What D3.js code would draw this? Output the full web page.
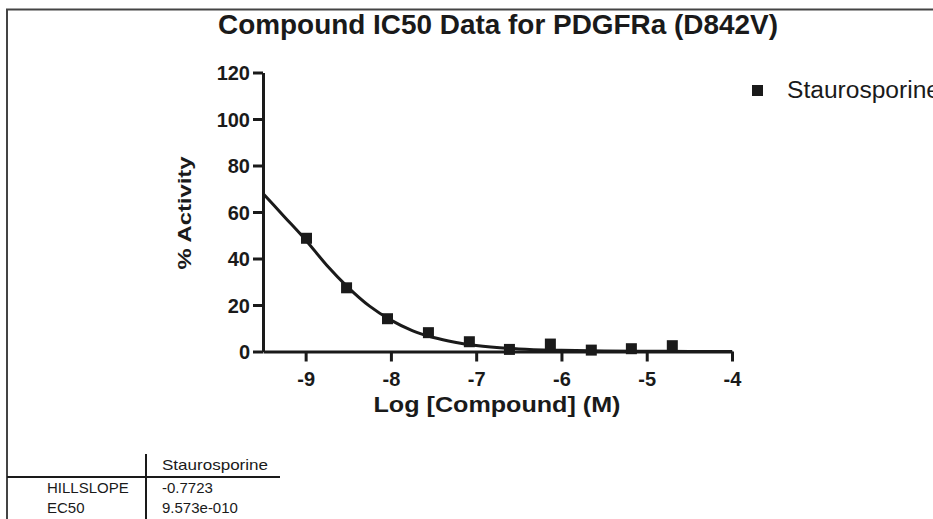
<!DOCTYPE html>
<html>
<head>
<meta charset="utf-8">
<script src="https://cdn.jsdelivr.net/npm/d3@7"></script>
<style>
  html, body { margin: 0; padding: 0; background: #fff; }
  svg { display: block; }
  text { font-family: "Liberation Sans", Arial, Helvetica, sans-serif; fill: #1a1a1a; }
</style>
</head>
<body>
<svg id="chart" width="933" height="519"></svg>
<script>
// ---- data ----
const seriesName = "Staurosporine";
const logConc = [-8.99, -8.52, -8.04, -7.56, -7.08, -6.61, -6.13, -5.65, -5.18, -4.70];
const activity = [48.7, 27.4, 14.1, 8.1, 4.2, 0.9, 3.2, 0.6, 1.2, 2.5];
// fitted curve as drawn in the reference
const curveX = [-9.5, -9.25, -9, -8.75, -8.5, -8.25, -8, -7.75, -7.5, -7.25, -7, -6.5, -6, -5.5, -5, -4.5, -4];
const curveY = [68, 58, 48, 37, 27.5, 19.5, 13.5, 9, 6, 4, 2.6, 1.1, 0.5, 0.2, 0.1, 0.05, 0];
const xTicks = [-9, -8, -7, -6, -5, -4];
const xTickLabels = ["-9", "-8", "-7", "-6", "-5", "-4"];
const yTicks = [0, 20, 40, 60, 80, 100, 120];
const tableRows = ["HILLSLOPE", "EC50"];
const tableValues = ["-0.7723", "9.573e-010"];

const svg = d3.select("#chart");
const ink = "#1a1a1a";

const x = d3.scaleLinear().domain([-9.5, -4]).range([263, 732]);
const y = d3.scaleLinear().domain([0, 120]).range([351.5, 72.5]);

// frame
svg.append("path")
  .attr("d", "M7,519V9.5H933")
  .attr("fill", "none").attr("stroke", "#444").attr("stroke-width", 2);

// title
svg.append("text")
  .attr("x", 498).attr("y", 34)
  .attr("text-anchor", "middle")
  .attr("font-size", 28).attr("font-weight", "bold")
  .attr("textLength", 560).attr("lengthAdjust", "spacingAndGlyphs")
  .text("Compound IC50 Data for PDGFRa (D842V)");

// axes
const yAxis = d3.axisLeft(y).tickValues(yTicks).tickSize(10).tickSizeOuter(0).tickPadding(3)
  .tickFormat(d => String(d));
const xAxis = d3.axisBottom(x).tickValues(xTicks).tickSize(10).tickSizeOuter(0).tickPadding(6)
  .tickFormat((d, i) => xTickLabels[i]);

const gy = svg.append("g").attr("transform", `translate(${x.range()[0]},0)`).call(yAxis);
const gx = svg.append("g").attr("transform", `translate(0,${y(0)})`).call(xAxis);

[gx, gy].forEach(g => {
  g.select(".domain").attr("stroke", ink).attr("stroke-width", 3);
  g.selectAll(".tick line").attr("stroke", ink).attr("stroke-width", 3);
  g.selectAll(".tick text")
    .attr("font-family", "'Liberation Sans', Arial, sans-serif")
    .attr("font-size", 20).attr("font-weight", "bold").attr("fill", ink);
});
gy.selectAll(".tick text").attr("dy", "0.36em");
gx.selectAll(".tick text").attr("dy", "0.9em");

// axis titles
svg.append("text")
  .attr("x", 497).attr("y", 412)
  .attr("text-anchor", "middle")
  .attr("font-size", 22).attr("font-weight", "bold")
  .attr("textLength", 247).attr("lengthAdjust", "spacingAndGlyphs")
  .text("Log [Compound] (M)");

svg.append("text")
  .attr("transform", "translate(191,213) rotate(-90)")
  .attr("text-anchor", "middle")
  .attr("font-size", 19).attr("font-weight", "bold")
  .attr("textLength", 113).attr("lengthAdjust", "spacingAndGlyphs")
  .text("% Activity");

// fitted curve
const line = d3.line().x((d, i) => x(curveX[i])).y(d => y(d)).curve(d3.curveMonotoneX);
svg.append("path")
  .attr("d", line(curveY))
  .attr("fill", "none").attr("stroke", ink).attr("stroke-width", 3);

// data points
const sq = 11;
svg.append("g").selectAll("rect")
  .data(activity)
  .join("rect")
  .attr("x", (d, i) => x(logConc[i]) - sq / 2)
  .attr("y", d => y(d) - sq / 2)
  .attr("width", sq).attr("height", sq)
  .attr("fill", ink);

// legend
svg.append("rect")
  .attr("x", 752).attr("y", 85).attr("width", 11).attr("height", 11).attr("fill", ink);
svg.append("text")
  .attr("x", 787).attr("y", 98)
  .attr("font-size", 23)
  .attr("textLength", 153).attr("lengthAdjust", "spacingAndGlyphs")
  .text(seriesName);

// parameter table
svg.append("line").attr("x1", 146).attr("x2", 146).attr("y1", 454).attr("y2", 519)
  .attr("stroke", ink).attr("stroke-width", 2);
svg.append("line").attr("x1", 7).attr("x2", 280).attr("y1", 477).attr("y2", 477)
  .attr("stroke", ink).attr("stroke-width", 2);
svg.append("text")
  .attr("x", 162).attr("y", 470)
  .attr("font-size", 15)
  .attr("textLength", 106).attr("lengthAdjust", "spacingAndGlyphs")
  .text(seriesName);
svg.append("g").selectAll("text")
  .data(tableRows)
  .join("text")
  .attr("x", 47).attr("y", (d, i) => 493 + i * 20)
  .attr("font-size", 15)
  .text(d => d);
svg.append("g").selectAll("text")
  .data(tableValues)
  .join("text")
  .attr("x", 162).attr("y", (d, i) => 493 + i * 20)
  .attr("font-size", 15)
  .text(d => d);
</script>
</body>
</html>
